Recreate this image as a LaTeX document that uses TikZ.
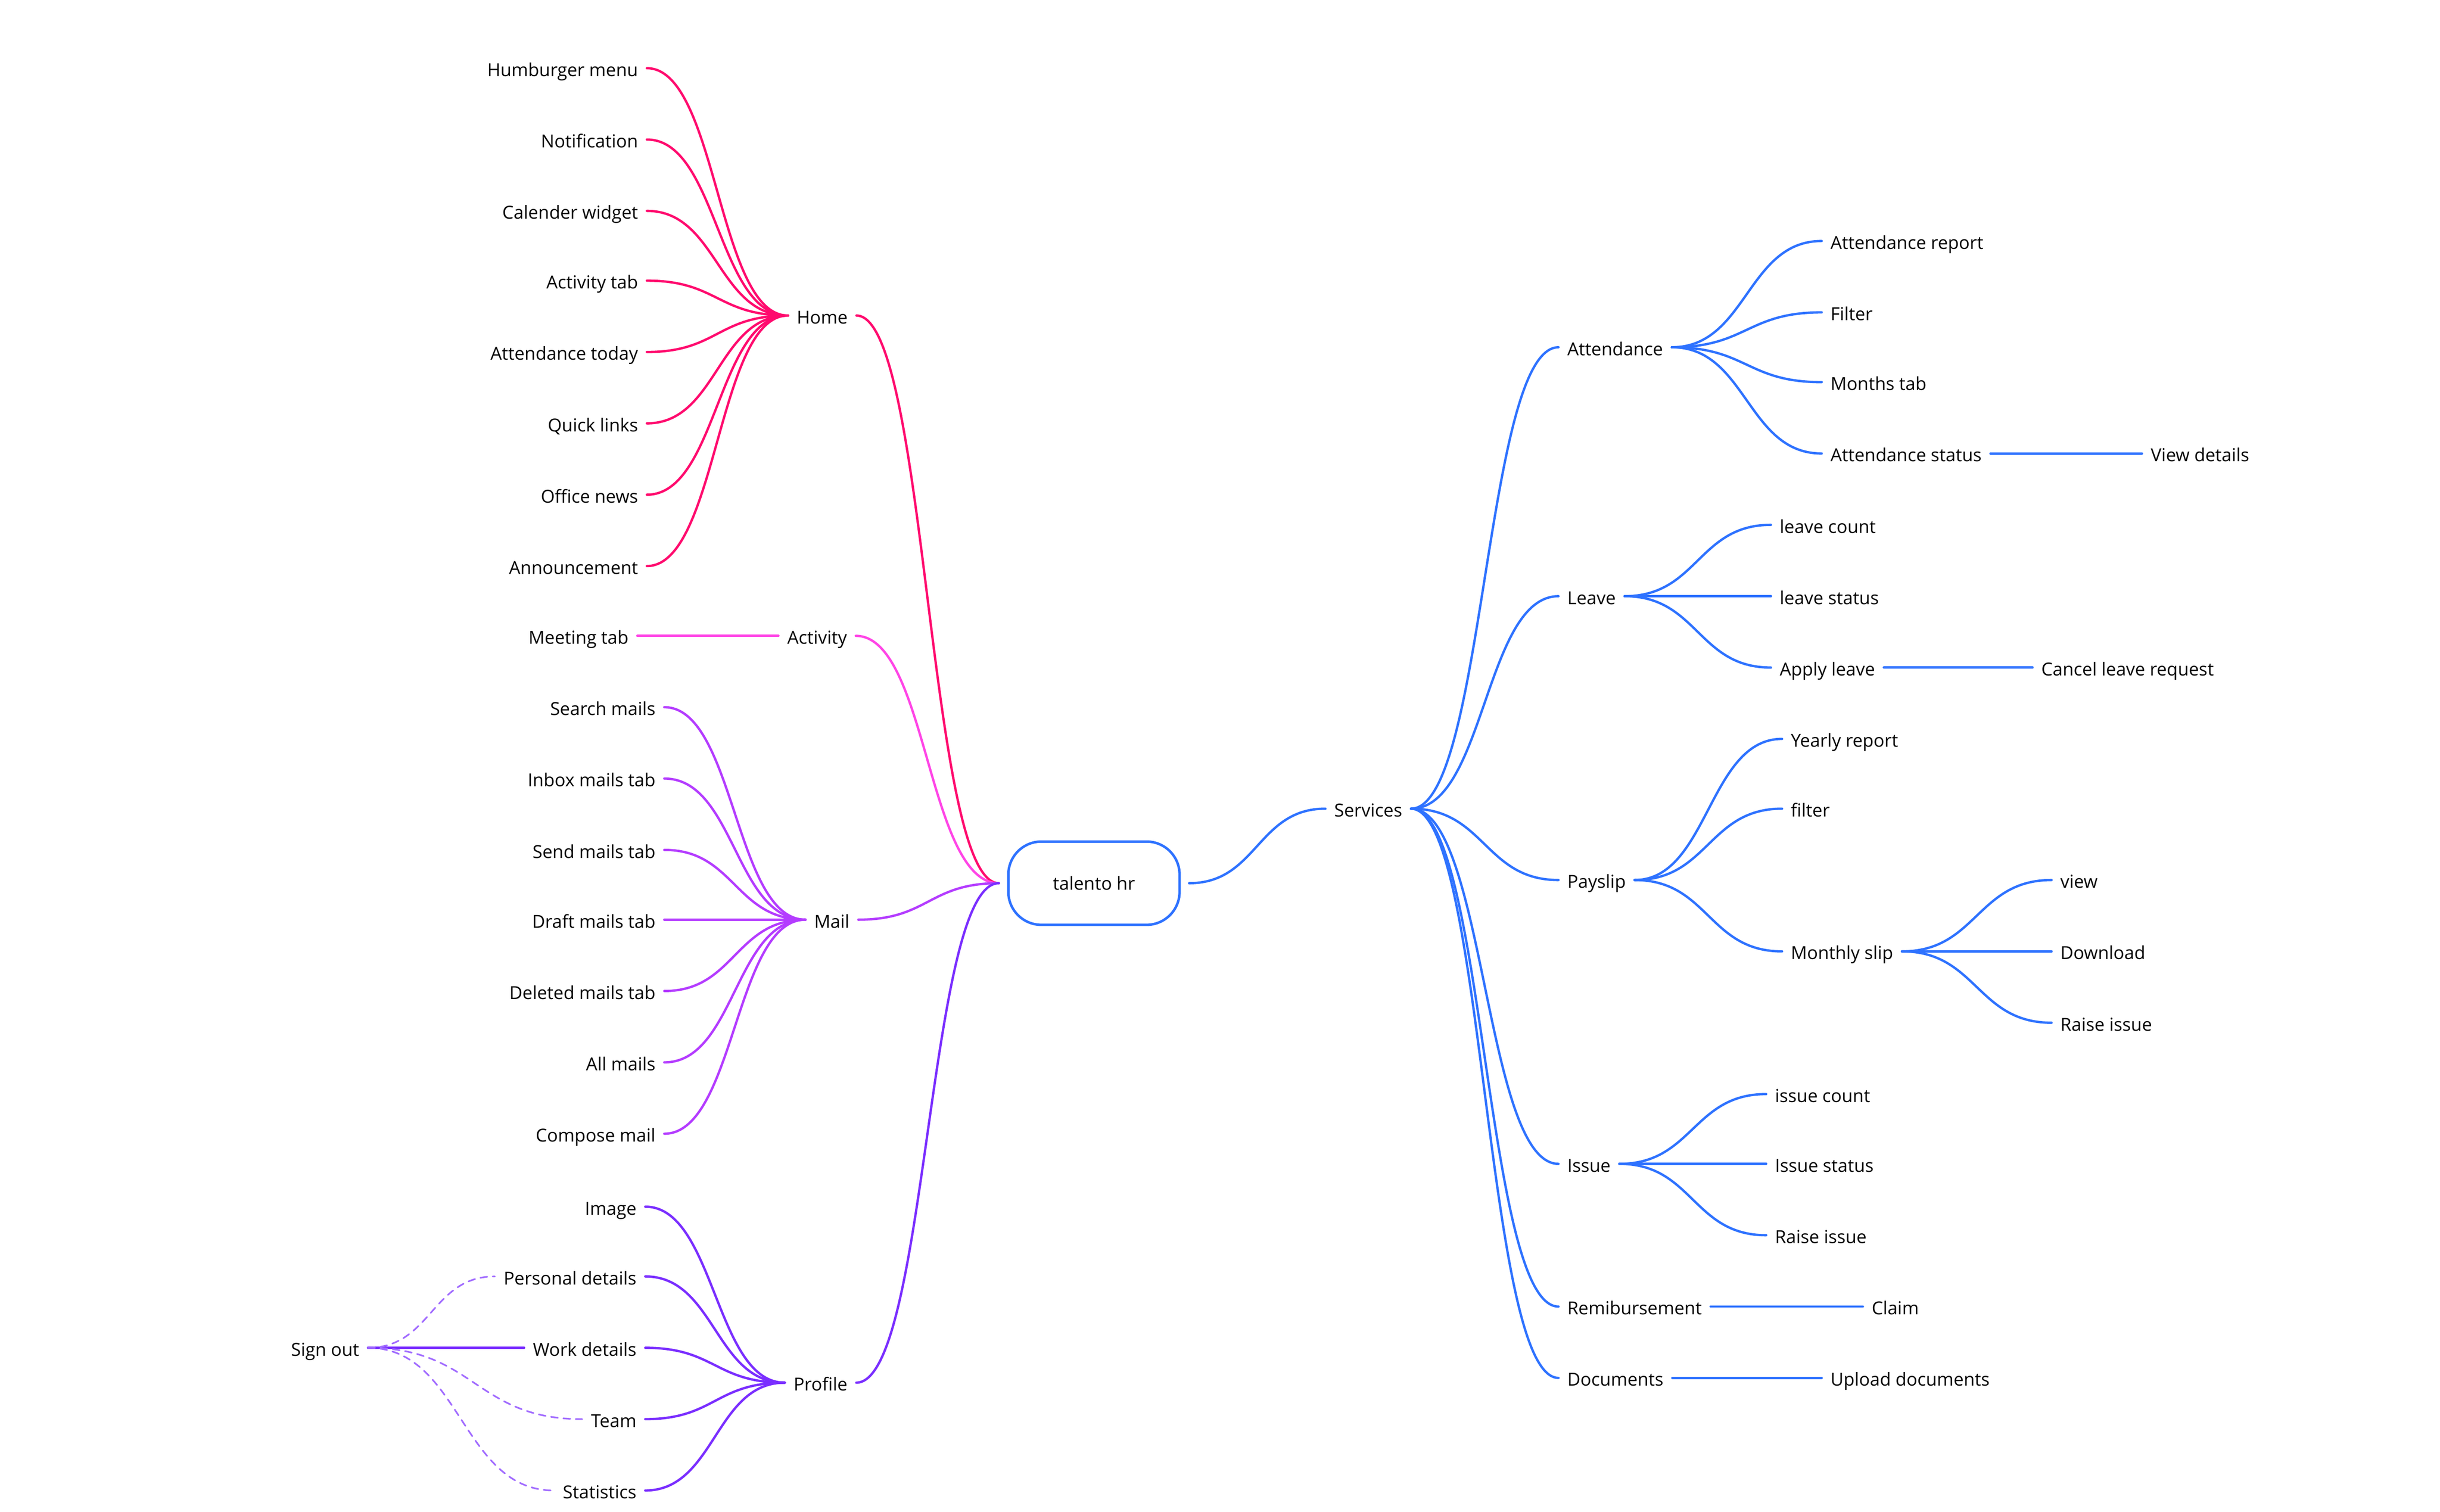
\documentclass[tikz,border=0pt]{standalone}
\usepackage{fontspec}
\setmainfont{Open Sans}
\usetikzlibrary{calc}
\begin{document}
\begin{tikzpicture}[x=0.02018cm,y=-0.02018cm,
  lbl/.style={inner sep=0pt,outer sep=3.2pt,font=\fontsize{6.5}{8}\selectfont,text height=1.45ex,text depth=.35ex},
  L/.style={lbl,anchor=east},R/.style={lbl,anchor=west},
  e/.style={line width=0.85pt,line cap=round},
  home/.style={e,draw=cHome},act/.style={e,draw=cAct},mail/.style={e,draw=cMail},
  prof/.style={e,draw=cProf},serv/.style={e,draw=cServ},
  cv/.style={to path={let \p1=(\tikztostart), \p2=(\tikztotarget) in .. controls (\x1/2+\x2/2,\y1) and (\x1/2+\x2/2,\y2) .. (\tikztotarget) \tikztonodes}}]
\definecolor{cHome}{HTML}{FF0A6E}
\definecolor{cAct}{HTML}{FF45E6}
\definecolor{cMail}{HTML}{B43CFF}
\definecolor{cProf}{HTML}{7A2EFF}
\definecolor{cServ}{HTML}{2E72FF}
\useasboundingbox (0,0) rectangle (1539,953.4);
\node[draw=cServ,line width=0.9pt,rounded corners=0.42cm,minimum width=2.18cm,minimum height=1.06cm,inner sep=0pt,font=\fontsize{6.5}{8}\selectfont] (root) at (690,557) {talento hr};
% left main
\node[R] (home) at (497,199) {Home};
\node[R] (act) at (491,401) {Activity};
\node[R] (mail) at (508,580) {Mail};
\node[R] (prof) at (495,872) {Profile};
\foreach \nm/\st in {home/home,act/act,mail/mail,prof/prof}
  \draw[\st] (\nm.east) to[cv] ([xshift=-3pt]root.west);
\foreach \t/\yy [count=\i] in {Humburger menu/43,Notification/88,Calender widget/133,Activity tab/177,Attendance today/222,Quick links/267,Office news/312,Announcement/357}{
  \node[L] (h\i) at (408,\yy) {\t};
  \draw[home] (h\i.east) to[cv] (home.west);}
\node[L] (a1) at (402,401) {Meeting tab};
\draw[act] (a1.east) -- (act.west);
\foreach \t/\yy [count=\i] in {Search mails/446,Inbox mails tab/491,Send mails tab/536,Draft mails tab/580,Deleted mails tab/625,All mails/670,Compose mail/715}{
  \node[L] (m\i) at (419,\yy) {\t};
  \draw[mail] (m\i.east) to[cv] (mail.west);}
\foreach \t/\yy [count=\i] in {Image/761,Personal details/805,Work details/850,Team/895,Statistics/940}{
  \node[L] (p\i) at (407,\yy) {\t};
  \draw[prof] (p\i.east) to[cv] (prof.west);}
\node[R] (so) at (178,850) {Sign out};
\draw[prof] (so.east) -- (p3.west);
\foreach \i in {2,4,5}
  \draw[prof,line width=0.6pt,dash pattern=on 2.5pt off 2pt,draw=cProf!70] (so.east) to[cv] (p\i.west);
% right
\node[R] (serv) at (836,510) {Services};
\draw[serv] ([xshift=3pt]root.east) to[cv] (serv.west);
\foreach \nm/\t/\yy in {att/Attendance/219,lea/Leave/376,pay/Payslip/555,iss/Issue/734,rem/Remibursement/824,doc/Documents/869}{
  \node[R] (\nm) at (983,\yy) {\t};
  \draw[serv] (serv.east) to[cv] (\nm.west);}
\foreach \t/\yy [count=\i] in {Attendance report/152,Filter/197,Months tab/241,Attendance status/286}{
  \node[R] (at\i) at (1149,\yy) {\t};
  \draw[serv] (att.east) to[cv] (at\i.west);}
\node[R] (vd) at (1351,286) {View details};
\draw[serv] (at4.east) -- (vd.west);
\foreach \t/\yy [count=\i] in {leave count/331,leave status/376,Apply leave/421}{
  \node[R] (l\i) at (1117,\yy) {\t};
  \draw[serv] (lea.east) to[cv] (l\i.west);}
\node[R] (clr) at (1282,421) {Cancel leave request};
\draw[serv] (l3.east) -- (clr.west);
\foreach \t/\yy [count=\i] in {Yearly report/466,filter/510,Monthly slip/600}{
  \node[R] (ps\i) at (1124,\yy) {\t};
  \draw[serv] (pay.east) to[cv] (ps\i.west);}
\foreach \t/\yy [count=\i] in {view/555,Download/600,Raise issue/645}{
  \node[R] (ms\i) at (1294,\yy) {\t};
  \draw[serv] (ps3.east) to[cv] (ms\i.west);}
\foreach \t/\yy [count=\i] in {issue count/690,Issue status/734,Raise issue/779}{
  \node[R] (is\i) at (1114,\yy) {\t};
  \draw[serv] (iss.east) to[cv] (is\i.west);}
\node[R] (cl) at (1175,824) {Claim};
\draw[serv] (rem.east) -- (cl.west);
\node[R] (ud) at (1149,869) {Upload documents};
\draw[serv] (doc.east) -- (ud.west);
\end{tikzpicture}
\end{document}
